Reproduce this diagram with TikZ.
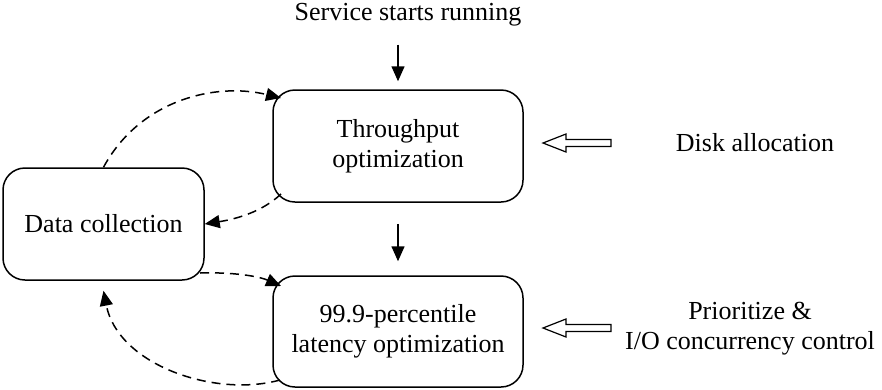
\documentclass[tikz,border=0pt]{standalone}
\usepackage{fontspec}
\setmainfont{Liberation Serif}
\usetikzlibrary{arrows.meta}
\begin{document}
\begin{tikzpicture}[x=1pt,y=-1pt,
  every node/.style={font=\fontsize{26}{30}\selectfont},
  stagebox/.style={draw,line width=1.5pt,rounded corners=22pt,align=center,
    inner sep=0pt},
  label/.style={align=center,inner sep=0pt},
  flow/.style={line width=1.5pt,-{Triangle[length=15pt,width=13pt]}},
  feedback/.style={flow,dash pattern=on 9pt off 6pt},
  hollow/.style={draw,line width=1.2pt,fill=white}]
\useasboundingbox (0,0) rectangle (882,389);

% stages
\node[stagebox,minimum width=250pt,minimum height=112pt] (thr) at (398,146)
  {Throughput\\optimization};
\node[stagebox,minimum width=250pt,minimum height=111pt] (lat) at (398,331.5)
  {99.9-percentile\\latency optimization};
\node[stagebox,minimum width=201pt,minimum height=112pt] (dc) at (103.5,224)
  {Data collection};

% side labels
\node[label] (start) at (408,15) {Service starts running};
\node[label] (disk) at (755,143) {Disk allocation};
\node[label] (prio) at (750,329) {Prioritize \&\\I/O concurrency control};

% main flow
\draw[flow] ([yshift=-18pt]start.south -| thr.north) -- ([yshift=8pt]thr.north);
\draw[flow] ([yshift=-21pt]thr.south) -- ([yshift=14pt]lat.north);

% feedback loops with data collection
\draw[feedback] (dc.north) .. controls (140,100) and (215,82) .. (281,98);
\draw[feedback] (281,194) .. controls (262,212) and (236,219) .. (dc.east);
\draw[feedback] (200,273) .. controls (232,272) and (258,276) .. (281,286);
\draw[feedback] (280,380) .. controls (215,398) and (118,365) .. ([yshift=-10pt]dc.south);

% hollow input arrows
\coordinate (dtip) at (543,143);
\coordinate (ptip) at (543,328);
\foreach \t in {dtip,ptip}{
  \draw[hollow] (\t) -- ++(23,-9) -- ++(0,5.5) -- ++(45,0) -- ++(0,7)
    -- ++(-45,0) -- ++(0,5.5) -- cycle;
}
\end{tikzpicture}
\end{document}
